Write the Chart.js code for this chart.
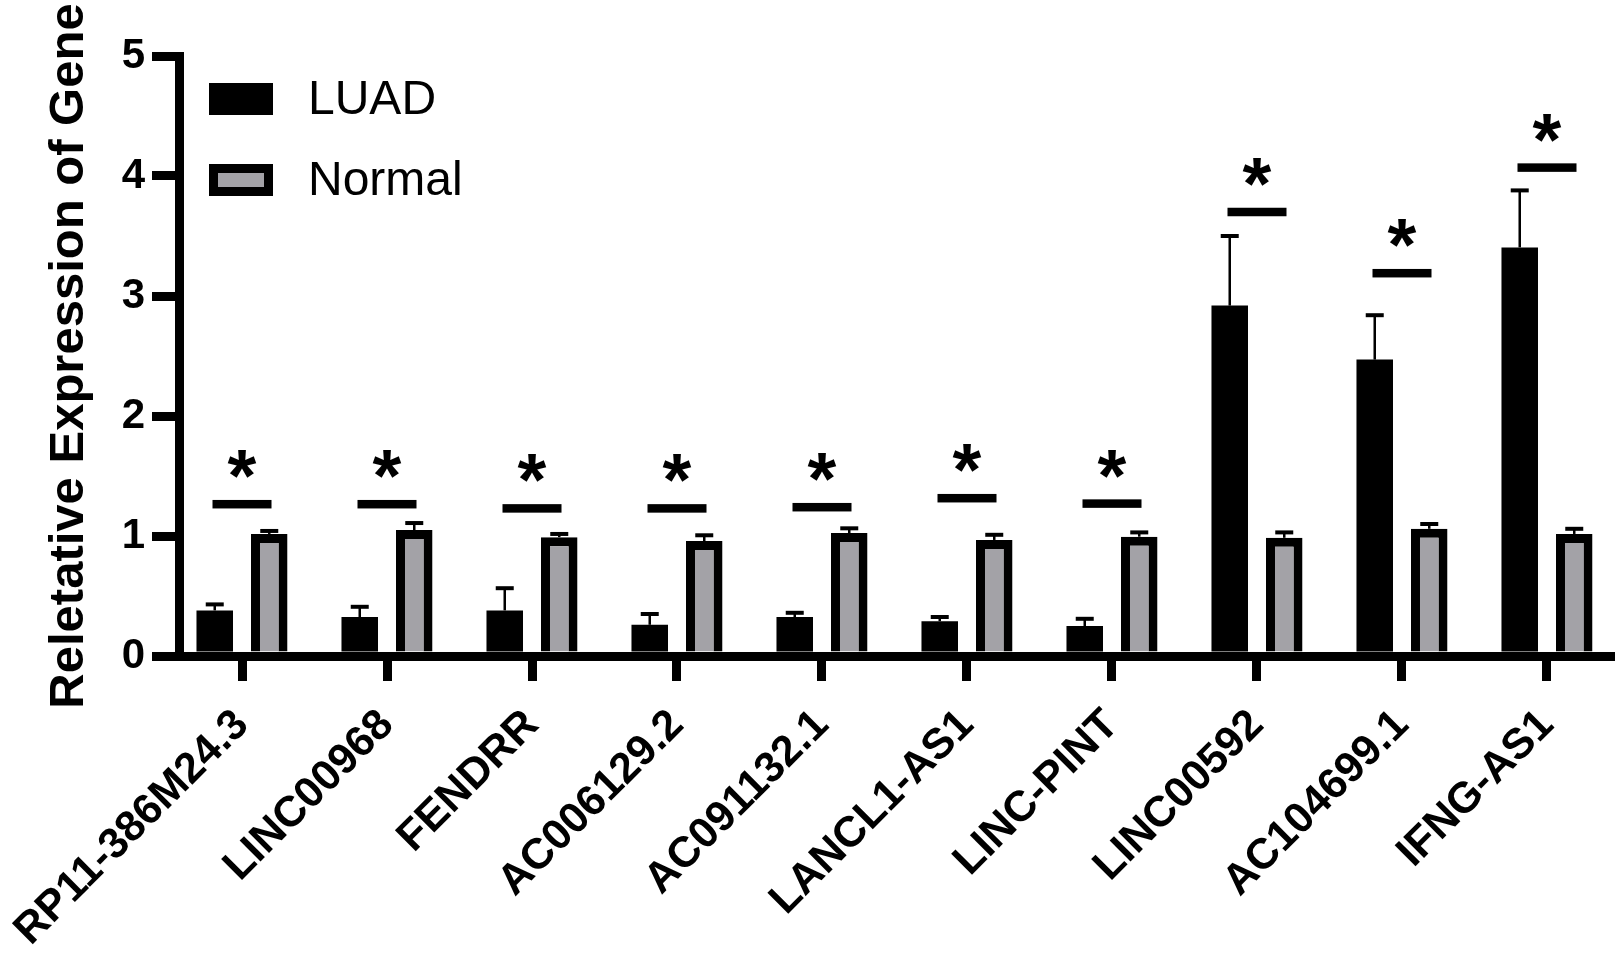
<!DOCTYPE html>
<html>
<head>
<meta charset="utf-8">
<script src="https://cdn.jsdelivr.net/npm/chart.js@4.4.1/dist/chart.umd.min.js"></script>
<style>
  html, body { margin: 0; padding: 0; background: #fff; overflow: hidden; }
  #wrap { width: 1615px; height: 956px; position: relative; }
</style>
</head>
<body>
<div id="wrap"><canvas id="chart"></canvas></div>
<script>
// Genes on the x axis
var genes = ["RP11-386M24.3", "LINC00968", "FENDRR", "AC006129.2", "AC091132.1",
             "LANCL1-AS1", "LINC-PINT", "LINC00592", "AC104699.1", "IFNG-AS1"];

// Mean relative expression
var luadMean   = [0.38, 0.325, 0.38, 0.26, 0.325, 0.29, 0.25, 2.92, 2.47, 3.405];
var luadErr    = [0.05, 0.085, 0.185, 0.09, 0.035, 0.035, 0.06, 0.58, 0.37, 0.475];
var normalMean = [1.017, 1.05, 0.99, 0.958, 1.025, 0.967, 0.994, 0.985, 1.06, 1.017];
var normalErr  = [0.025, 0.058, 0.027, 0.048, 0.039, 0.043, 0.036, 0.045, 0.04, 0.043];

// Height of the significance bar above each pair
var sigLevels  = [1.265, 1.265, 1.23, 1.23, 1.24, 1.315, 1.27, 3.70, 3.19, 4.07];
var sigMarks   = ["*", "*", "*", "*", "*", "*", "*", "*", "*", "*"];

// Y axis ticks
var yTicks = [0, 1, 2, 3, 4, 5];

var GREY = "#a3a2a7";

// ===============================
// Error bars (drawn above each bar)
// ===============================
var errorBarsPlugin = {
    id: "errorBars",
    afterDatasetsDraw: function(chart) {
        var ctx = chart.ctx;
        var yScale = chart.scales.y;
        chart.data.datasets.forEach(function(ds, d) {
            var meta = chart.getDatasetMeta(d);
            meta.data.forEach(function(bar, i) {
                var top = yScale.getPixelForValue(ds.data[i].y + ds.errors[i]);
                ctx.save();
                ctx.strokeStyle = "#000";
                ctx.lineWidth = 2.5;
                ctx.beginPath();
                ctx.moveTo(bar.x, bar.y);
                ctx.lineTo(bar.x, top);
                ctx.stroke();
                ctx.lineWidth = 4;
                ctx.beginPath();
                ctx.moveTo(bar.x - 9, top);
                ctx.lineTo(bar.x + 9, top);
                ctx.stroke();
                ctx.restore();
            });
        });
    }
};

// ===============================
// Significance bars and asterisks
// ===============================
var significancePlugin = {
    id: "significance",
    afterDatasetsDraw: function(chart) {
        var ctx = chart.ctx;
        var xScale = chart.scales.x;
        var yScale = chart.scales.y;
        ctx.save();
        ctx.font = "bold 74px 'Liberation Sans', Arial, sans-serif";
        var m = ctx.measureText("*");
        var glyphMid = (m.actualBoundingBoxAscent - m.actualBoundingBoxDescent) / 2;
        sigLevels.forEach(function(level, i) {
            var cx = xScale.getPixelForValue(i);
            var cy = yScale.getPixelForValue(level);
            ctx.fillStyle = "#000";
            ctx.fillRect(cx - 29.5, cy - 4.25, 59, 8.5);
            ctx.textAlign = "center";
            ctx.textBaseline = "alphabetic";
            ctx.fillText(sigMarks[i], cx, cy - 40 + glyphMid);
        });
        ctx.restore();
    }
};

// ===============================
// Legend in the top left corner
// ===============================
var legendPlugin = {
    id: "cornerLegend",
    afterDraw: function(chart) {
        var ctx = chart.ctx;
        ctx.save();
        chart.data.datasets.forEach(function(ds, d) {
            var bx = 209, by = 83 + d * 81, bw = 64, bh = 32;
            ctx.fillStyle = "#000";
            ctx.fillRect(bx, by, bw, bh);
            if (ds.borderWidth > 0) {
                ctx.fillStyle = ds.backgroundColor;
                ctx.fillRect(bx + ds.borderWidth, by + ds.borderWidth,
                             bw - 2 * ds.borderWidth, bh - 2 * ds.borderWidth);
            }
            ctx.fillStyle = "#000";
            ctx.font = "48px 'Liberation Sans', Arial, sans-serif";
            ctx.textAlign = "left";
            ctx.textBaseline = "middle";
            ctx.fillText(ds.label, 308, by + bh / 2 + 2);
        });
        ctx.restore();
    }
};

var ctx = document.getElementById("chart").getContext("2d");

var chart = new Chart(ctx, {
    type: "bar",
    data: {
        datasets: [
            {
                label: "LUAD",
                data: luadMean.map(function(v, i) { return { x: i, y: v }; }),
                errors: luadErr,
                backgroundColor: "#000",
                borderColor: "#000",
                borderWidth: 0
            },
            {
                label: "Normal",
                data: normalMean.map(function(v, i) { return { x: i, y: v }; }),
                errors: normalErr,
                backgroundColor: GREY,
                borderColor: "#000",
                borderWidth: 9,
                borderSkipped: "start"
            }
        ]
    },
    options: {
        responsive: true,
        maintainAspectRatio: false,
        animation: false,
        categoryPercentage: 0.752,
        barPercentage: 0.67,
        layout: { padding: { top: 56, left: 0, right: 0, bottom: 0 } },
        plugins: {
            legend: { display: false },
            tooltip: { enabled: false }
        },
        scales: {
            x: {
                type: "linear",
                min: -0.4345,
                max: 9.469,
                offset: false,
                z: 1,
                grid: {
                    offset: false,
                    drawOnChartArea: false,
                    color: "#000",
                    lineWidth: 9,
                    tickWidth: 9,
                    tickLength: 25
                },
                border: { display: true, color: "#000", width: 9 },
                afterBuildTicks: function(scale) {
                    scale.ticks = genes.map(function(g, i) { return { value: i }; });
                },
                afterFit: function(scale) {
                    scale.height = 300;
                    scale.paddingLeft = 0;
                    scale.paddingRight = 0;
                },
                ticks: {
                    autoSkip: false,
                    minRotation: 45,
                    maxRotation: 45,
                    padding: 31,
                    color: "#000",
                    font: { family: "'Liberation Sans', Arial, sans-serif", size: 43, weight: "bold", lineHeight: 0.4 },
                    callback: function(value) { return genes[value]; }
                }
            },
            y: {
                min: 0,
                max: 5,
                grid: {
                    drawOnChartArea: false,
                    color: "#000",
                    lineWidth: 9,
                    tickWidth: 9,
                    tickLength: 27
                },
                border: { display: true, color: "#000", width: 9 },
                afterBuildTicks: function(scale) {
                    scale.ticks = yTicks.map(function(v) { return { value: v }; });
                },
                afterFit: function(scale) {
                    scale.width = 179;
                },
                ticks: {
                    padding: 7,
                    color: "#000",
                    font: { family: "'Liberation Sans', Arial, sans-serif", size: 42, weight: "bold" }
                },
                title: {
                    display: true,
                    text: "Reletative Expression of Gene",
                    color: "#000",
                    padding: { top: 40, bottom: 0 },
                    font: { family: "'Liberation Sans', Arial, sans-serif", size: 49, weight: "bold" }
                }
            }
        }
    },
    plugins: [errorBarsPlugin, significancePlugin, legendPlugin]
});
</script>
</body>
</html>
